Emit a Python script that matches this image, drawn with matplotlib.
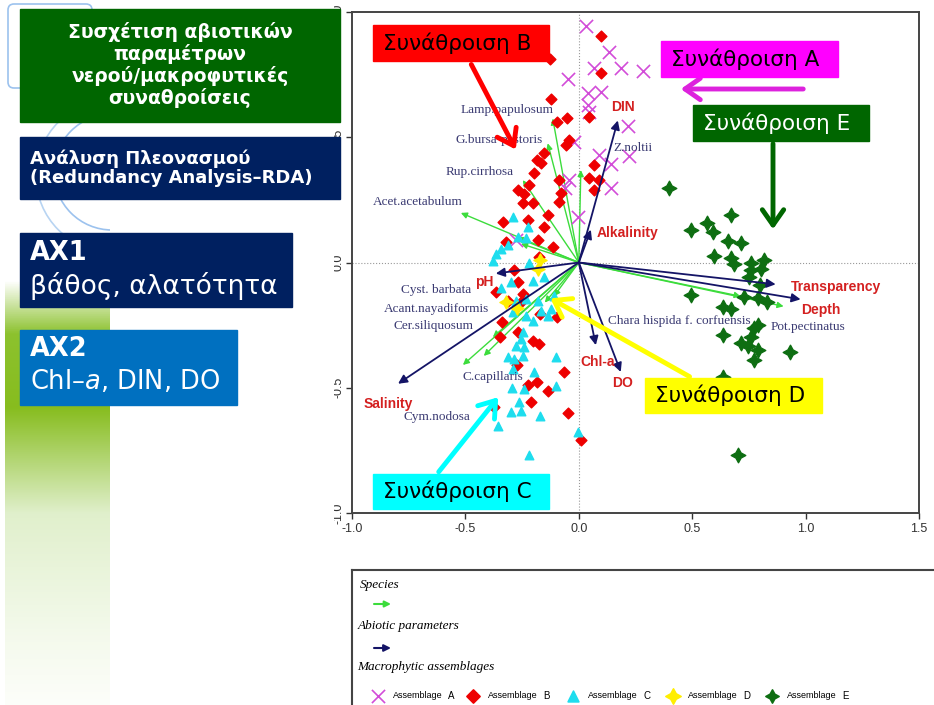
import numpy as np
import matplotlib.pyplot as plt
from matplotlib.patches import Rectangle, FancyArrowPatch, Circle, FancyBboxPatch

W, H = 934, 705

# RDA sample scores (axis 1, axis 2) per macrophytic assemblage
asm_a_x = [0.031, 0.132, 0.066, 0.185, 0.282, -0.048, 0.040, 0.097, 0.040, 0.044,
           0.216, -0.022, 0.088, 0.141, 0.220, -0.044, -0.062, 0.141, -0.004, -0.278]
asm_a_y = [0.944, 0.841, 0.778, 0.778, 0.766, 0.734, 0.675, 0.679, 0.627, 0.599,
           0.544, 0.480, 0.429, 0.393, 0.425, 0.329, 0.298, 0.298, 0.183, 0.091]

asm_b_x = [0.097, -0.128, 0.097, -0.123, -0.053, -0.097, 0.044, -0.044, -0.057, -0.154,
           -0.167, -0.185, -0.198, -0.220, -0.269, -0.242, -0.088, -0.079, -0.247, -0.203,
           -0.088, -0.137, -0.225, -0.335, -0.154, -0.181, -0.322, -0.115, -0.176, 0.066,
           0.044, 0.088, 0.066, -0.286, -0.269, -0.366, -0.247, -0.313, -0.256, -0.172,
           -0.097, -0.339, -0.269, -0.348, -0.203, -0.176, -0.273, -0.066, -0.225, -0.185,
           -0.137, -0.211, -0.048, 0.009, -0.374]
asm_b_y = [0.905, 0.813, 0.758, 0.651, 0.575, 0.560, 0.579, 0.488, 0.468, 0.437,
           0.397, 0.409, 0.357, 0.310, 0.290, 0.274, 0.329, 0.278, 0.238, 0.238,
           0.242, 0.190, 0.171, 0.163, 0.143, 0.091, 0.083, 0.063, 0.020, 0.389,
           0.337, 0.329, 0.290, -0.028, -0.079, -0.119, -0.127, -0.155, -0.159, -0.206,
           -0.218, -0.238, -0.278, -0.298, -0.313, -0.325, -0.409, -0.437, -0.488, -0.476,
           -0.512, -0.556, -0.599, -0.710, -0.575]

asm_c_x = [-0.291, -0.225, -0.269, -0.233, -0.313, -0.344, -0.366, -0.379, -0.220, -0.154,
           -0.203, -0.300, -0.344, -0.278, -0.233, -0.181, -0.110, -0.123, -0.167, -0.291,
           -0.233, -0.203, -0.137, -0.247, -0.256, -0.278, -0.242, -0.247, -0.313, -0.286,
           -0.101, -0.291, -0.198, -0.295, -0.242, -0.101, -0.264, -0.256, -0.300, -0.172,
           -0.357, -0.004, -0.220]
asm_c_y = [0.183, 0.143, 0.103, 0.099, 0.071, 0.052, 0.032, 0.004, 0.000, -0.056,
           -0.075, -0.079, -0.103, -0.155, -0.147, -0.155, -0.135, -0.187, -0.194, -0.198,
           -0.214, -0.234, -0.214, -0.278, -0.306, -0.333, -0.337, -0.373, -0.377, -0.385,
           -0.377, -0.425, -0.437, -0.500, -0.504, -0.492, -0.556, -0.591, -0.595, -0.611,
           -0.651, -0.675, -0.770]

asm_d_x = [-0.181, -0.322, -0.273, -0.170]
asm_d_y = [-0.024, -0.159, -0.183, 0.008]

asm_e_x = [0.396, 0.670, 0.493, 0.564, 0.590, 0.656, 0.714, 0.595, 0.670, 0.683,
           0.758, 0.815, 0.802, 0.758, 0.749, 0.797, 0.493, 0.727, 0.789, 0.828,
           0.634, 0.670, 0.771, 0.789, 0.634, 0.758, 0.714, 0.744, 0.789, 0.771,
           0.930, 0.634, 0.700]
asm_e_y = [0.298, 0.190, 0.131, 0.159, 0.123, 0.087, 0.079, 0.024, 0.016, -0.004,
           0.000, 0.008, -0.024, -0.028, -0.056, -0.091, -0.131, -0.139, -0.143, -0.159,
           -0.179, -0.187, -0.262, -0.250, -0.290, -0.298, -0.321, -0.333, -0.349, -0.389,
           -0.357, -0.456, -0.770]

# abiotic parameter vectors
abiotic_names = ["DIN", "Alkalinity", "pH", "Salinity", "Chl-a", "DO", "Transparency", "Depth"]
abiotic_x = [0.172, 0.053, -0.366, -0.797, 0.075, 0.185, 0.868, 0.978]
abiotic_y = [0.567, 0.131, -0.044, -0.484, -0.330, -0.437, -0.087, -0.147]

# species vectors
species_names = ["Lamp.papulosum", "G.bursa-pastoris", "Rup.cirrhosa", "Acet.acetabulum",
                 "Z.noltii", "Cyst. barbata", "Acant.nayadiformis", "Cer.siliquosum",
                 "C.capillaris", "Cym.nodosa", "Chara hispida f. corfuensis",
                 "Pot.pectinatus", "", ""]
species_x = [-0.115, -0.137, -0.247, -0.520, 0.009, -0.150, -0.110, -0.379, -0.419, -0.511,
             0.714, 0.903, -0.255, -0.275]
species_y = [0.575, 0.476, 0.329, 0.198, 0.369, -0.160, -0.135, -0.298, -0.373, -0.409,
             -0.135, -0.175, 0.075, 0.100]

# label placement (data coords, alignment)
abiotic_lbl = [(0.194, 0.619, "center"), (0.079, 0.119, "left"), (-0.419, -0.079, "center"),
               (-0.841, -0.563, "center"), (0.084, -0.397, "center"), (0.194, -0.480, "center"),
               (0.934, -0.099, "left"), (1.066, -0.190, "center")]
species_lbl = [(-0.110, 0.607, "right"), (-0.159, 0.488, "right"), (-0.286, 0.361, "right"),
               (-0.511, 0.242, "right"), (0.154, 0.456, "left"), (-0.476, -0.111, "right"),
               (-0.396, -0.187, "right"), (-0.463, -0.254, "right"), (-0.247, -0.456, "right"),
               (-0.480, -0.615, "right"), (0.128, -0.234, "left"), (0.846, -0.258, "left"),
               None, None]

col_a, col_b, col_c, col_d, col_e = "#D24DD8", "#EE0000", "#1EDDEE", "#FFEE00", "#0E6E12"
navy = "#141466"
lgreen = "#3CDC3C"
star4 = (4, 1, 0)


def px(x, y):
    return (x / W, 1 - y / H)


fig = plt.figure(figsize=(W / 100, H / 100), dpi=100)
fig.patch.set_facecolor("white")

# main biplot
ax = fig.add_axes([352 / W, 1 - 513 / H, (919 - 352) / W, (513 - 12) / H])
ax.set_xlim(-1.0, 1.5)
ax.set_ylim(-1.0, 1.0)
ax.axhline(0, color="#999999", ls=":", lw=0.8, zorder=0)
ax.axvline(0, color="#999999", ls=":", lw=0.8, zorder=0)

for sx, sy in zip(species_x, species_y):
    ax.annotate("", xy=(sx, sy), xytext=(0, 0),
                arrowprops=dict(arrowstyle="-|>", color=lgreen, lw=1.0,
                                mutation_scale=9, shrinkA=0, shrinkB=0), zorder=2)

ax.scatter(asm_a_x, asm_a_y, marker="x", s=90, color=col_a, linewidths=1.2, zorder=3)
ax.scatter(asm_b_x, asm_b_y, marker="D", s=30, color=col_b, zorder=3)
ax.scatter(asm_c_x, asm_c_y, marker="^", s=38, color=col_c, zorder=3)
ax.scatter(asm_d_x, asm_d_y, marker=star4, s=90, color=col_d, zorder=3)
ax.scatter(asm_e_x, asm_e_y, marker=star4, s=110, color=col_e, zorder=3)

for ex, ey in zip(abiotic_x, abiotic_y):
    ax.annotate("", xy=(ex, ey), xytext=(0, 0),
                arrowprops=dict(arrowstyle="-|>", color=navy, lw=1.3,
                                mutation_scale=13, shrinkA=0, shrinkB=0), zorder=4)

for name, (lx, ly, ha) in zip(abiotic_names, abiotic_lbl):
    ax.text(lx, ly, name, ha=ha, va="center", color="#D42020", fontsize=10,
            fontweight="bold", family="Liberation Sans", zorder=5)

for name, lbl in zip(species_names, species_lbl):
    if lbl is None:
        continue
    lx, ly, ha = lbl
    ax.text(lx, ly, name, ha=ha, va="center", color="#3A3A72", fontsize=9.5,
            family="Liberation Serif", zorder=5)

ax.set_xticks([-1.0, -0.5, 0.0, 0.5, 1.0, 1.5])
ax.set_xticklabels(["-1.0", "-0.5", "0.0", "0.5", "1.0", "1.5"])
ax.set_yticks([-1.0, -0.5, 0.0, 0.5, 1.0])
ax.set_yticklabels(["-1.0", "-0.5", "0.0", "0.5", "1.0"], rotation=90, va="center")
ax.tick_params(labelsize=9, colors="#333333", length=4, width=1)
ax.tick_params(axis="y", pad=1.5)
for lab in ax.get_xticklabels() + ax.get_yticklabels():
    lab.set_family("Liberation Sans")
for sp in ax.spines.values():
    sp.set_color("#444444")
    sp.set_linewidth(1.4)

# legend panel
lg = fig.add_axes([352 / W, 0, 1 - 352 / W, (705 - 570) / H])
lg.set_xlim(352, 934)
lg.set_ylim(705, 570)
lg.set_xticks([])
lg.set_yticks([])
lg.spines["right"].set_visible(False)
lg.spines["bottom"].set_visible(False)
for s in ("left", "top"):
    lg.spines[s].set_color("#444444")
    lg.spines[s].set_linewidth(1.5)

lg.text(360, 585, "Species", style="italic", family="Liberation Serif", fontsize=9.5, va="center")
lg.annotate("", xy=(391, 604), xytext=(374, 604),
            arrowprops=dict(arrowstyle="-|>", color=lgreen, lw=1.5, mutation_scale=9,
                            shrinkA=0, shrinkB=0))
lg.text(358, 626, "Abiotic parameters", style="italic", family="Liberation Serif",
        fontsize=9.5, va="center")
lg.annotate("", xy=(391, 648), xytext=(374, 648),
            arrowprops=dict(arrowstyle="-|>", color=navy, lw=1.5, mutation_scale=10,
                            shrinkA=0, shrinkB=0))
lg.text(357, 667, "Macrophytic assemblages", style="italic", family="Liberation Serif",
        fontsize=9.5, va="center")

leg_items = [("x", col_a, 90, "A"), ("D", col_b, 45, "B"), ("^", col_c, 60, "C"),
             (star4, col_d, 120, "D"), (star4, col_e, 90, "E")]
leg_x = [378, 473, 573, 673, 772]
for (mk, c, s, letter), lx in zip(leg_items, leg_x):
    lg.scatter([lx], [696], marker=mk, s=s, color=c, linewidths=1.2, clip_on=False)
    lg.text(lx + 15, 696, "Assemblage", fontsize=6.5, family="Liberation Sans", va="center")
    lg.text(lx + 70, 696, letter, fontsize=7, family="Liberation Sans", va="center")

# left slide decoration
deco = fig.add_axes([0, 0, 334 / W, 1], zorder=5)
deco.set_xlim(0, 334)
deco.set_ylim(705, 0)
deco.axis("off")
deco.add_patch(Rectangle((0, 0), 334, 705, color="white", zorder=0))
grad = np.ones((200, 1, 3))
stops_y = np.array([0, 25, 60, 110, 170, 200]) / 200
stops_c = np.array([[1, 1, 1], [0.55, 0.76, 0.18], [0.53, 0.74, 0.12],
                    [0.88, 0.94, 0.80], [0.96, 0.98, 0.93], [0.99, 0.995, 0.98]])
tt = np.linspace(0, 1, 200)
for k in range(3):
    grad[:, 0, k] = np.interp(tt, stops_y, stops_c[:, k])
deco.imshow(grad, extent=(5, 110, 705, 280), aspect="auto", zorder=1)
strip = Rectangle((0, 0), 110, 705, transform=deco.transData, fill=False, lw=0)
deco.add_patch(strip)
deco.add_patch(FancyBboxPatch((8, 4), 84, 84, boxstyle="round,pad=0,rounding_size=6",
                              fill=False, ec="#9CC2EE", lw=1.2, zorder=2))
for cx, cy, r, ec in [(112, 172, 58, "#9CC2EE"), (112, 176, 76, "#B8D4F2")]:
    circ = Circle((cx, cy), r, fill=False, ec=ec, lw=1.2, zorder=2)
    deco.add_patch(circ)
    circ.set_clip_path(strip)


def box(x0, y0, x1, y1, color):
    fig.add_artist(Rectangle(px(x0, y1), (x1 - x0) / W, (y1 - y0) / H,
                             transform=fig.transFigure, color=color, zorder=10))


def ftext(x, y, s, **kw):
    fig.text(x / W, 1 - y / H, s, zorder=11, **kw)


box(20, 9, 340, 122, "#006600")
ftext(180, 65, "Συσχέτιση αβιοτικών\nπαραμέτρων\nνερού/μακροφυτικές\nσυναθροίσεις",
      color="white", fontsize=13.5, fontweight="bold", ha="center", va="center",
      linespacing=1.12)
box(20, 137, 340, 199, "#002060")
ftext(30, 168, "Ανάλυση Πλεονασμού\n(Redundancy Analysis–RDA)", color="white",
      fontsize=13, fontweight="bold", ha="left", va="center", linespacing=1.1)
box(20, 233, 292, 307, "#002060")
ftext(30, 253, "AX1", color="white", fontsize=18.5, fontweight="bold", va="center")
ftext(30, 286, "βάθος, αλατότητα", color="white", fontsize=19, va="center")
box(20, 330, 237, 405, "#0070C0")
ftext(30, 349, "AX2", color="white", fontsize=18.5, fontweight="bold", va="center")
ftext(30, 382, "Chl–$\\mathit{a}$, DIN, DO", color="white", fontsize=18.5, va="center")

# assemblage call-outs
callouts = [
    ((373, 25, 549, 61), "#FF0000", "black", "Συνάθροιση B", (470, 62), (517, 152)),
    ((661, 41, 838, 77), "#FF00FF", "black", "Συνάθροιση A", (806, 89), (678, 89)),
    ((693, 105, 869, 141), "#006600", "white", "Συνάθροιση E", (773, 141), (773, 232)),
    ((645, 378, 822, 413), "#FFFF00", "black", "Συνάθροιση D", (692, 378), (548, 297)),
    ((373, 474, 549, 509), "#00FFFF", "black", "Συνάθροιση C", (437, 474), (500, 395)),
]
arrow_cols = ["#FF0000", "#DD22DD", "#006600", "#FFFF00", "#00FFFF"]
for (bb, bc, tc, txt, p0, p1), ac in zip(callouts, arrow_cols):
    x0, y0, x1, y1 = bb
    box(x0, y0, x1, y1, bc)
    ftext(x0 + 10, (y0 + y1) / 2, txt, color=tc, fontsize=15.5, va="center", ha="left")
    fig.add_artist(FancyArrowPatch(px(*p0), px(*p1), transform=fig.transFigure,
                                   arrowstyle="->,head_length=0.5,head_width=0.35",
                                   mutation_scale=22, color=ac, lw=3.5, zorder=9))

fig.savefig("out.png", dpi=100)
